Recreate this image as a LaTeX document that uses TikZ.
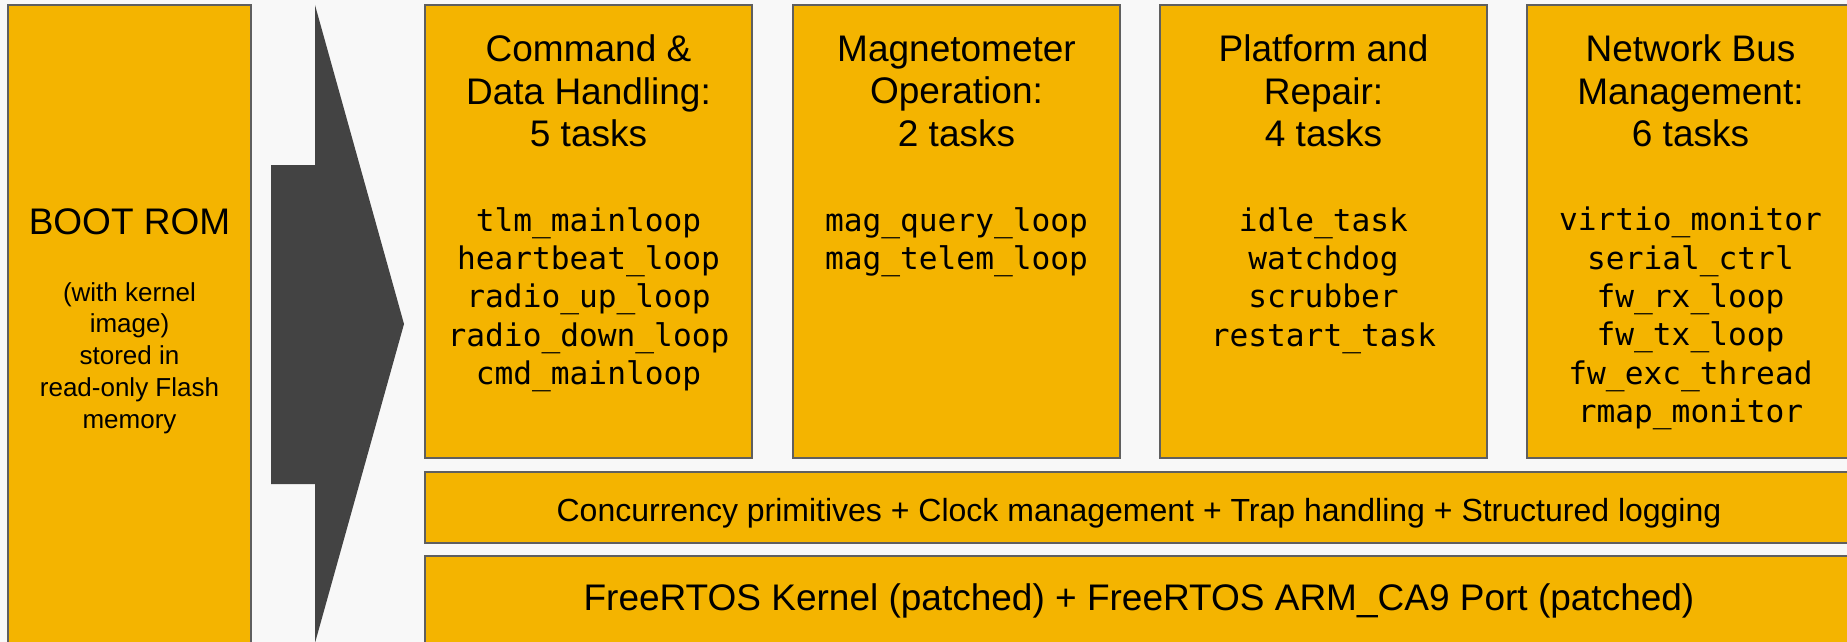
\documentclass[tikz,border=0pt]{standalone}
\usepackage{fontspec}
\setmainfont{Liberation Sans}
\setmonofont{DejaVu Sans Mono}
\definecolor{pagebg}{HTML}{F8F8F8}
\definecolor{boxfill}{HTML}{F4B400}
\definecolor{boxline}{HTML}{5F5F5F}
\definecolor{arrowgray}{HTML}{434343}
\tikzset{
  layerbox/.style={fill=boxfill, draw=boxline, line width=0.7pt},
  title/.style={align=center, font=\fontsize{18.5}{21.25}\selectfont, inner sep=0pt},
  tasks/.style={align=center, font=\fontsize{15.6}{19.15}\selectfont\ttfamily, inner sep=0pt},
  note/.style={align=center, font=\fontsize{13}{15.9}\selectfont, inner sep=0pt},
  bartext/.style={font=\fontsize{16}{19}\selectfont, inner sep=0pt},
}
\begin{document}
\begin{tikzpicture}[x=0.5pt, y=-0.5pt]
  % canvas
  \fill[pagebg] (0,0) rectangle (1847,642);
  \useasboundingbox (0,0) rectangle (1847,642);

  % boot ROM column
  \draw[layerbox] (8,5) rectangle (251,660);
  \node[title] (rom) at (129.5,222) {BOOT ROM};
  \node[note] (romnote) at (129.5,358) {(with kernel\\image)\\stored in\\read-only Flash\\memory};

  % boot arrow
  \fill[arrowgray] (271,165) -- (315,165) -- (315,5) -- (404,324)
    -- (315,643) -- (315,484) -- (271,484) -- cycle;

  % task groups
  \draw[layerbox] (425,5) rectangle (752,458);
  \draw[layerbox] (793,5) rectangle (1120,458);
  \draw[layerbox] (1160,5) rectangle (1487,458);
  \draw[layerbox] (1527,5) rectangle (1854,458);

  \node[title] (cdh) at (588.5,91) {Command \&\\Data Handling:\\5 tasks};
  \node[title] (mag) at (956.5,91) {Magnetometer\\Operation:\\2 tasks};
  \node[title] (plat) at (1323.5,91) {Platform and\\Repair:\\4 tasks};
  \node[title] (net) at (1690.5,91) {Network Bus\\Management:\\6 tasks};

  \node[tasks] (cdhtasks) at (588.5,299.5) {tlm\_mainloop\\heartbeat\_loop\\radio\_up\_loop\\radio\_down\_loop\\cmd\_mainloop};
  \node[tasks] (magtasks) at (956.5,242) {mag\_query\_loop\\mag\_telem\_loop};
  \node[tasks] (plattasks) at (1323.5,280.5) {idle\_task\\watchdog\\scrubber\\restart\_task};
  \node[tasks] (nettasks) at (1690.5,318.5) {virtio\_monitor\\serial\_ctrl\\fw\_rx\_loop\\fw\_tx\_loop\\fw\_exc\_thread\\rmap\_monitor};

  % services layer
  \draw[layerbox] (425,472) rectangle (1854,543);
  \node[bartext] (services) at (1139,513) {Concurrency primitives + Clock management + Trap handling + Structured logging};

  % kernel layer
  \draw[layerbox] (425,556) rectangle (1854,660);
  \node[title] (kernel) at (1139,601) {FreeRTOS Kernel (patched) + FreeRTOS ARM\_CA9 Port (patched)};
\end{tikzpicture}
\end{document}
